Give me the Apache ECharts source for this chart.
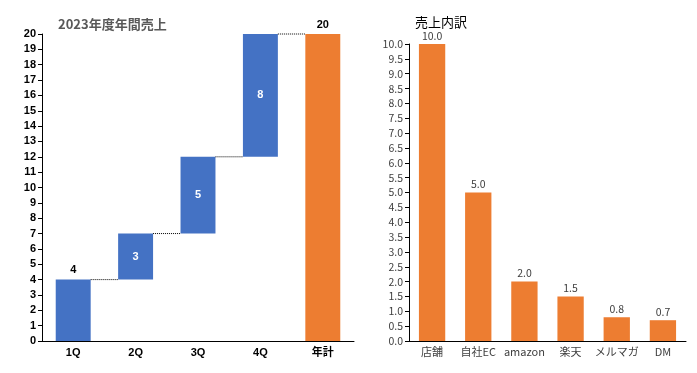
<!DOCTYPE html>
<html><head><meta charset="utf-8">
<script src="https://cdn.jsdelivr.net/npm/echarts@6/dist/echarts.min.js"></script>
<style>html,body{margin:0;padding:0;background:#fff}#c{width:697px;height:373px}</style>
</head><body><div id="c"></div>
<script>
// Left: waterfall
const quarters = ['1Q', '2Q', '3Q', '4Q', '年計'];
const increments = [4, 3, 5, 8];
const total = 20;
const leftTicks = { min: 0, max: 20, interval: 1 };
// Right: breakdown
const channels = ['店舗', '自社EC', 'amazon', '楽天', 'メルマガ', 'DM'];
const channelSales = [10.0, 5.0, 2.0, 1.5, 0.8, 0.7];
const rightTicks = { min: 0, max: 10, interval: 0.5 };

const BLUE = '#4472C4', ORANGE = '#ED7D31';
const JP = '"Noto Sans CJK JP", sans-serif';
const LAT = '"Liberation Sans", "Noto Sans CJK JP", sans-serif';

const base = [], cum = [];
let s = 0;
increments.forEach(v => { base.push(s); s += v; cum.push(s); });
base.push(0);
const incData = increments.map((v, i) => ({
  value: v,
  label: i === 0
    ? { show: true, position: 'top', color: '#000' }
    : { show: true, position: 'inside', color: '#fff' }
}));
incData.push('-');
const totalData = quarters.map((q, i) => i === quarters.length - 1 ? total : '-');

const chart = echarts.init(document.getElementById('c'));
chart.setOption({
  animation: false,
  title: [
    { text: '2023年度年間売上', left: 53, top: 13, textStyle: { fontFamily: JP, fontSize: 13, fontWeight: 'bold', color: '#595959' } },
    { text: '売上内訳', left: 410, top: 11, textStyle: { fontFamily: JP, fontSize: 13, fontWeight: 'normal', color: '#000' } }
  ],
  grid: [
    { left: 42, right: 343, top: 34, bottom: 32 },
    { left: 409, right: 11, top: 44, bottom: 32 }
  ],
  xAxis: [
    { type: 'category', gridIndex: 0, data: quarters,
      axisLine: { lineStyle: { color: '#000', width: 1 } }, axisTick: { show: false },
      axisLabel: { color: '#000', fontFamily: LAT, fontWeight: 'bold', fontSize: 11, margin: 6, interval: 0 } },
    { type: 'category', gridIndex: 1, data: channels,
      axisLine: { lineStyle: { color: '#000', width: 1 } }, axisTick: { show: false },
      axisLabel: { color: '#404040', fontFamily: JP, fontSize: 11, margin: 5, interval: 0 } }
  ],
  yAxis: [
    { type: 'value', gridIndex: 0, min: leftTicks.min, max: leftTicks.max, interval: leftTicks.interval,
      splitLine: { show: false },
      axisLine: { show: true, lineStyle: { color: '#000' } },
      axisTick: { show: true, length: 4, lineStyle: { color: '#000' } },
      axisLabel: { color: '#000', fontFamily: LAT, fontWeight: 'bold', fontSize: 11, margin: 6 } },
    { type: 'value', gridIndex: 1, min: rightTicks.min, max: rightTicks.max, interval: rightTicks.interval,
      splitLine: { show: false },
      axisLine: { show: true, lineStyle: { color: '#000' } },
      axisTick: { show: true, length: 4, lineStyle: { color: '#000' } },
      axisLabel: { color: '#404040', fontFamily: JP, fontSize: 10.5, margin: 6, formatter: v => v.toFixed(1) } }
  ],
  series: [
    { type: 'bar', xAxisIndex: 0, yAxisIndex: 0, stack: 'wf', data: base, barWidth: '56%',
      itemStyle: { color: 'transparent' }, silent: true },
    { type: 'bar', xAxisIndex: 0, yAxisIndex: 0, stack: 'wf', data: incData, barWidth: '56%',
      itemStyle: { color: BLUE },
      label: { fontFamily: LAT, fontWeight: 'bold', fontSize: 11, distance: 4 } },
    { type: 'bar', xAxisIndex: 0, yAxisIndex: 0, stack: 'wf', data: totalData, barWidth: '56%',
      itemStyle: { color: ORANGE },
      label: { show: true, position: 'top', color: '#000', fontFamily: LAT, fontWeight: 'bold', fontSize: 11, distance: 4 } },
    { type: 'custom', xAxisIndex: 0, yAxisIndex: 0, silent: true, z: 5,
      data: cum.map((v, i) => [i, v]),
      renderItem: (params, api) => {
        const i = api.value(0), lv = api.value(1);
        const bw = api.size([1, 0])[0] * 0.56;
        const p0 = api.coord([i, lv]), p1 = api.coord([i + 1, lv]);
        return { type: 'line',
          shape: { x1: p0[0] + bw / 2, y1: p0[1], x2: p1[0] - bw / 2, y2: p1[1] },
          style: { stroke: '#000', lineWidth: 1, lineDash: [1, 1] } };
      } },
    { type: 'bar', xAxisIndex: 1, yAxisIndex: 1, data: channelSales, barWidth: '57%',
      itemStyle: { color: ORANGE },
      label: { show: true, position: 'top', color: '#404040', fontFamily: JP, fontSize: 10.5, distance: 3,
        formatter: p => p.value.toFixed(1) } }
  ]
});
</script></body></html>
